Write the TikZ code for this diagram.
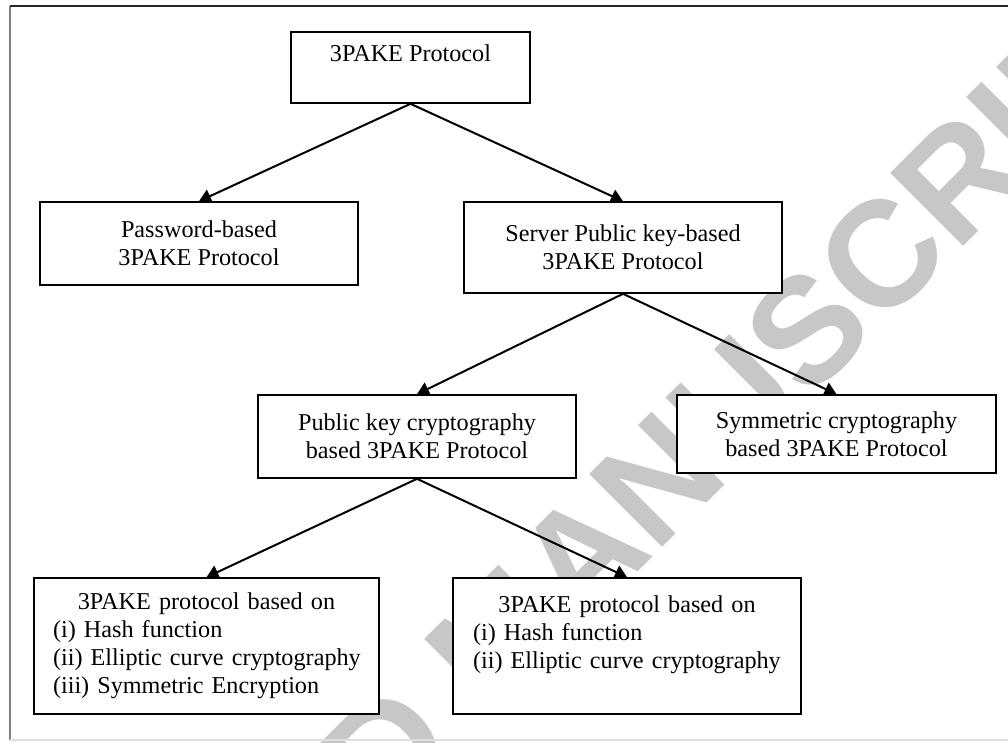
\documentclass[tikz,border=0pt]{standalone}
\usepackage{fontspec}
\setmainfont{Liberation Serif}
\newfontfamily\wmfont{Liberation Sans}
\usetikzlibrary{arrows.meta}

\begin{document}
\begin{tikzpicture}[x=1pt,y=-1pt,
  box/.style={draw,fill=white,line width=1.6pt,inner sep=0pt,
    font=\fontsize{24.2}{28}\selectfont},
  arr/.style={line width=2pt,-{Triangle[length=12pt,width=14pt]}},
  wm/.style={text=black!22,font=\wmfont\bfseries\fontsize{150}{150}\selectfont}]
\useasboundingbox (0,0) rectangle (1008,742);
% watermark
\begin{scope}
\clip (0,0) rectangle (1008,742);
\node[wm,rotate=45,anchor=base west,inner sep=0pt] (wmark) at (-122,1332) {ACCEPTED MANUSCRIPT};
\end{scope}
% frame
\draw[gray,line width=1.6pt] (10,6) -- (10,740);
\draw[black!85,line width=1.6pt] (10,6) -- (1008,6);
\draw[black!12,line width=1.6pt] (10,740) -- (1008,740);
% boxes
\node[box,align=center,minimum width=239pt,minimum height=71pt] (top) at (410.5,67.5) {3PAKE Protocol\\\mbox{}};
\node[box,align=center,minimum width=318pt,minimum height=83pt] (pw) at (199,243.5) {Password-based\\3PAKE Protocol};
\node[box,align=center,minimum width=318pt,minimum height=91pt] (srv) at (623,247.5) {Server Public key-based\\3PAKE Protocol};
\node[box,align=center,minimum width=318pt,minimum height=83pt] (pk) at (417,436.5) {Public key cryptography\\based 3PAKE Protocol};
\node[box,align=center,minimum width=319pt,minimum height=78pt] (sym) at (836.5,434) {Symmetric cryptography\\based 3PAKE Protocol};
\node[box,align=left,text width=307pt,minimum width=345pt,minimum height=136pt] (hl) at (206.5,646)
  {\hbox to\hsize{\hfil 3PAKE protocol based on\hfil}\\(i) Hash function\\\mbox{(ii) Elliptic curve cryptography}\\(iii) Symmetric Encryption};
\node[box,align=left,text width=308pt,minimum width=348pt,minimum height=136pt] (hr) at (627,646)
  {\hbox to\hsize{\hfil 3PAKE protocol based on\hfil}\\(i) Hash function\\\mbox{(ii) Elliptic curve cryptography}\\\mbox{}};
% arrows
\draw[arr] (top.south) -- (pw.north);
\draw[arr] (top.south) -- (srv.north);
\draw[arr] (srv.south) -- (pk.north);
\draw[arr] (srv.south) -- (sym.north);
\draw[arr] (pk.south) -- (hl.north);
\draw[arr] (pk.south) -- (hr.north);
\end{tikzpicture}
\end{document}
